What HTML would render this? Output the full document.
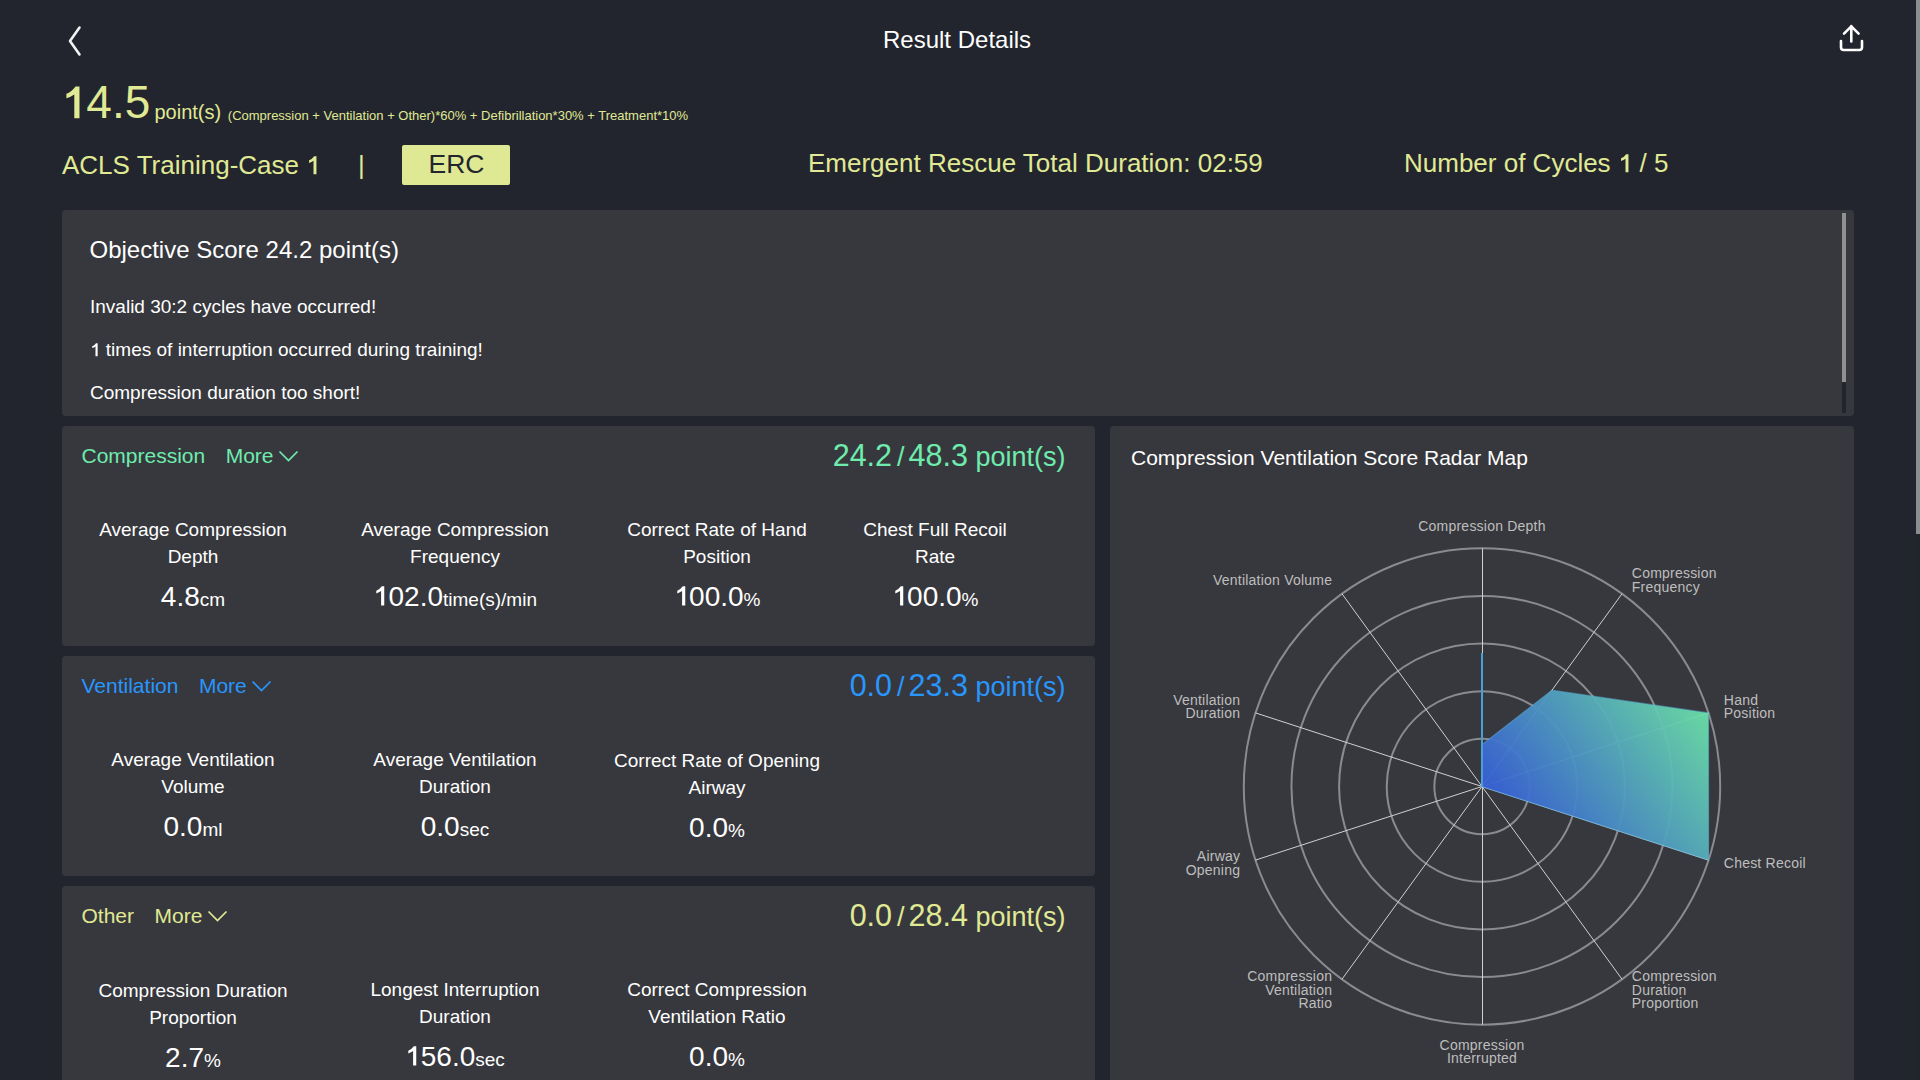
<!DOCTYPE html><html><head><meta charset="utf-8"><style>
html,body{margin:0;padding:0;}
body{width:1920px;height:1080px;overflow:hidden;background:#22252d;position:relative;font-family:"Liberation Sans", sans-serif;}
.t{position:absolute;white-space:nowrap;}
.box{position:absolute;background:#37383d;border-radius:4px;}
</style></head><body>
<div style="position:absolute;left:1916px;top:0;width:4px;height:534px;background:#8c8d8f"></div>
<div style="position:absolute;left:1916px;top:534px;width:4px;height:546px;background:#20252b"></div>
<svg style="position:absolute;left:0;top:0" width="1920" height="80">
<path d="M79.5 27.5 L70 41 L79.5 54.5" fill="none" stroke="#f2f2f2" stroke-width="2.6" stroke-linecap="round" stroke-linejoin="round"/>
<path d="M1851.3 26 V41.5 M1844 33.6 L1851.3 26.3 L1858.6 33.6" fill="none" stroke="#ffffff" stroke-width="2.6" stroke-linecap="round" stroke-linejoin="round"/>
<path d="M1841 41 V47.2 Q1841 50 1843.8 50 H1859.2 Q1862 50 1862 47.2 V41" fill="none" stroke="#ffffff" stroke-width="2.6" stroke-linecap="round" stroke-linejoin="round"/>
</svg>
<div class="t" style="left:883px;top:27.68px;font-size:24px;line-height:24px;color:#ffffff;">Result Details</div>
<div class="t" style="left:60.8px;top:78.86px;font-size:46px;line-height:46px;color:#e0e994;"><svg viewBox="0 0 556 700" style="width:0.556em;height:0.7em;overflow:visible"><path d="M315.2 8.7 Q228.3 128.3 117.4 167.4 V267.4 Q217.4 232.6 289.1 182.6 V700 H402.2 V8.7 Z" fill="currentColor"/></svg>4.5</div>
<div class="t" style="left:154.5px;top:101.57px;font-size:20px;line-height:20px;color:#e0e994;">point(s)</div>
<div class="t" style="left:227.8px;top:109.00px;font-size:13px;line-height:13px;color:#e0e994;">(Compression + Ventilation + Other)*60% + Defibrillation*30% + Treatment*10%</div>
<div class="t" style="left:62px;top:151.99px;font-size:26px;line-height:26px;color:#e0e994;">ACLS Training-Case <svg viewBox="0 0 556 700" style="width:0.556em;height:0.7em;overflow:visible"><path d="M315.2 8.7 Q228.3 128.3 117.4 167.4 V267.4 Q217.4 232.6 289.1 182.6 V700 H402.2 V8.7 Z" fill="currentColor"/></svg></div>
<div class="t" style="left:358px;top:151.99px;font-size:26px;line-height:26px;color:#e0e994;">|</div>
<div style="position:absolute;left:402px;top:145px;width:108px;height:40px;background:#dfe893;border-radius:2px"></div>
<div class="t" style="left:56.5px;width:800px;text-align:center;top:151.27px;font-size:26.5px;line-height:26.5px;color:#22252d;">ERC</div>
<div class="t" style="left:808px;top:149.99px;font-size:26px;line-height:26px;color:#e0e994;">Emergent Rescue Total Duration: 02:59</div>
<div class="t" style="left:1404px;top:149.99px;font-size:26px;line-height:26px;color:#e0e994;">Number of Cycles <svg viewBox="0 0 556 700" style="width:0.556em;height:0.7em;overflow:visible"><path d="M315.2 8.7 Q228.3 128.3 117.4 167.4 V267.4 Q217.4 232.6 289.1 182.6 V700 H402.2 V8.7 Z" fill="currentColor"/></svg> / 5</div>
<div class="box" style="left:62px;top:210px;width:1792px;height:206px"></div>
<div style="position:absolute;left:1842px;top:213px;width:4px;height:169px;background:#8f9091"></div>
<div style="position:absolute;left:1842px;top:382px;width:4px;height:31px;background:#20262c"></div>
<div class="t" style="left:89.5px;top:237.68px;font-size:24px;line-height:24px;color:#ffffff;">Objective Score 24.2 point(s)</div>
<div class="t" style="left:90px;top:297.12px;font-size:19px;line-height:19px;color:#ffffff;">Invalid 30:2 cycles have occurred!</div>
<div class="t" style="left:90px;top:340.12px;font-size:19px;line-height:19px;color:#ffffff;"><svg viewBox="0 0 556 700" style="width:0.556em;height:0.7em;overflow:visible"><path d="M315.2 8.7 Q228.3 128.3 117.4 167.4 V267.4 Q217.4 232.6 289.1 182.6 V700 H402.2 V8.7 Z" fill="currentColor"/></svg> times of interruption occurred during training!</div>
<div class="t" style="left:90px;top:383.12px;font-size:19px;line-height:19px;color:#ffffff;">Compression duration too short!</div>
<div class="box" style="left:62px;top:426px;width:1033px;height:220px"></div>
<div class="t" style="left:81.5px;top:444.72px;font-size:21px;line-height:21px;color:#6eecae;">Compression</div>
<div class="t" style="left:225.7px;top:444.72px;font-size:21px;line-height:21px;color:#6eecae;">More</div>
<svg style="position:absolute;left:277.7px;top:450px" width="22" height="14"><path d="M1.5 1.5 L10.5 10.5 L19.5 1.5" fill="none" stroke="#6eecae" stroke-width="1.7"/></svg>
<div class="t" style="left:265.5px;width:800px;text-align:right;top:440.18px;font-size:30.5px;line-height:30.5px;color:#6eecae;">24.2<span style="display:inline-block;font-size:27px;margin:0 4px 0 5px">/</span>48.3<span style="font-size:27px"> point(s)</span></div>
<div class="t" style="left:-207px;width:800px;text-align:center;top:519.92px;font-size:19px;line-height:19px;color:#ffffff;">Average Compression</div>
<div class="t" style="left:-207px;width:800px;text-align:center;top:546.67px;font-size:19px;line-height:19px;color:#ffffff;">Depth</div>
<div class="t" style="left:-207px;width:800px;text-align:center;top:582.70px;font-size:28px;line-height:28px;color:#ffffff;">4.8<span style="font-size:19px">cm</span></div>
<div class="t" style="left:55px;width:800px;text-align:center;top:519.92px;font-size:19px;line-height:19px;color:#ffffff;">Average Compression</div>
<div class="t" style="left:55px;width:800px;text-align:center;top:546.67px;font-size:19px;line-height:19px;color:#ffffff;">Frequency</div>
<div class="t" style="left:55px;width:800px;text-align:center;top:582.70px;font-size:28px;line-height:28px;color:#ffffff;"><svg viewBox="0 0 556 700" style="width:0.556em;height:0.7em;overflow:visible"><path d="M315.2 8.7 Q228.3 128.3 117.4 167.4 V267.4 Q217.4 232.6 289.1 182.6 V700 H402.2 V8.7 Z" fill="currentColor"/></svg>02.0<span style="font-size:19px">time(s)/min</span></div>
<div class="t" style="left:317px;width:800px;text-align:center;top:519.92px;font-size:19px;line-height:19px;color:#ffffff;">Correct Rate of Hand</div>
<div class="t" style="left:317px;width:800px;text-align:center;top:546.67px;font-size:19px;line-height:19px;color:#ffffff;">Position</div>
<div class="t" style="left:317px;width:800px;text-align:center;top:582.70px;font-size:28px;line-height:28px;color:#ffffff;"><svg viewBox="0 0 556 700" style="width:0.556em;height:0.7em;overflow:visible"><path d="M315.2 8.7 Q228.3 128.3 117.4 167.4 V267.4 Q217.4 232.6 289.1 182.6 V700 H402.2 V8.7 Z" fill="currentColor"/></svg>00.0<span style="font-size:19px">%</span></div>
<div class="t" style="left:535px;width:800px;text-align:center;top:519.92px;font-size:19px;line-height:19px;color:#ffffff;">Chest Full Recoil</div>
<div class="t" style="left:535px;width:800px;text-align:center;top:546.67px;font-size:19px;line-height:19px;color:#ffffff;">Rate</div>
<div class="t" style="left:535px;width:800px;text-align:center;top:582.70px;font-size:28px;line-height:28px;color:#ffffff;"><svg viewBox="0 0 556 700" style="width:0.556em;height:0.7em;overflow:visible"><path d="M315.2 8.7 Q228.3 128.3 117.4 167.4 V267.4 Q217.4 232.6 289.1 182.6 V700 H402.2 V8.7 Z" fill="currentColor"/></svg>00.0<span style="font-size:19px">%</span></div>
<div class="box" style="left:62px;top:656px;width:1033px;height:220px"></div>
<div class="t" style="left:81.5px;top:674.72px;font-size:21px;line-height:21px;color:#2896fc;">Ventilation</div>
<div class="t" style="left:198.9px;top:674.72px;font-size:21px;line-height:21px;color:#2896fc;">More</div>
<svg style="position:absolute;left:250.9px;top:680px" width="22" height="14"><path d="M1.5 1.5 L10.5 10.5 L19.5 1.5" fill="none" stroke="#2896fc" stroke-width="1.7"/></svg>
<div class="t" style="left:265.5px;width:800px;text-align:right;top:670.18px;font-size:30.5px;line-height:30.5px;color:#2896fc;">0.0<span style="display:inline-block;font-size:27px;margin:0 4px 0 5px">/</span>23.3<span style="font-size:27px"> point(s)</span></div>
<div class="t" style="left:-207px;width:800px;text-align:center;top:749.92px;font-size:19px;line-height:19px;color:#ffffff;">Average Ventilation</div>
<div class="t" style="left:-207px;width:800px;text-align:center;top:776.67px;font-size:19px;line-height:19px;color:#ffffff;">Volume</div>
<div class="t" style="left:-207px;width:800px;text-align:center;top:812.70px;font-size:28px;line-height:28px;color:#ffffff;">0.0<span style="font-size:19px">ml</span></div>
<div class="t" style="left:55px;width:800px;text-align:center;top:749.92px;font-size:19px;line-height:19px;color:#ffffff;">Average Ventilation</div>
<div class="t" style="left:55px;width:800px;text-align:center;top:776.67px;font-size:19px;line-height:19px;color:#ffffff;">Duration</div>
<div class="t" style="left:55px;width:800px;text-align:center;top:812.70px;font-size:28px;line-height:28px;color:#ffffff;">0.0<span style="font-size:19px">sec</span></div>
<div class="t" style="left:317px;width:800px;text-align:center;top:750.92px;font-size:19px;line-height:19px;color:#ffffff;">Correct Rate of Opening</div>
<div class="t" style="left:317px;width:800px;text-align:center;top:777.67px;font-size:19px;line-height:19px;color:#ffffff;">Airway</div>
<div class="t" style="left:317px;width:800px;text-align:center;top:813.70px;font-size:28px;line-height:28px;color:#ffffff;">0.0<span style="font-size:19px">%</span></div>
<div class="box" style="left:62px;top:886px;width:1033px;height:220px"></div>
<div class="t" style="left:81.5px;top:904.72px;font-size:21px;line-height:21px;color:#e0e994;">Other</div>
<div class="t" style="left:154.5px;top:904.72px;font-size:21px;line-height:21px;color:#e0e994;">More</div>
<svg style="position:absolute;left:206.5px;top:910px" width="22" height="14"><path d="M1.5 1.5 L10.5 10.5 L19.5 1.5" fill="none" stroke="#e0e994" stroke-width="1.7"/></svg>
<div class="t" style="left:265.5px;width:800px;text-align:right;top:900.18px;font-size:30.5px;line-height:30.5px;color:#e0e994;">0.0<span style="display:inline-block;font-size:27px;margin:0 4px 0 5px">/</span>28.4<span style="font-size:27px"> point(s)</span></div>
<div class="t" style="left:-207px;width:800px;text-align:center;top:980.92px;font-size:19px;line-height:19px;color:#ffffff;">Compression Duration</div>
<div class="t" style="left:-207px;width:800px;text-align:center;top:1007.67px;font-size:19px;line-height:19px;color:#ffffff;">Proportion</div>
<div class="t" style="left:-207px;width:800px;text-align:center;top:1043.70px;font-size:28px;line-height:28px;color:#ffffff;">2.7<span style="font-size:19px">%</span></div>
<div class="t" style="left:55px;width:800px;text-align:center;top:979.92px;font-size:19px;line-height:19px;color:#ffffff;">Longest Interruption</div>
<div class="t" style="left:55px;width:800px;text-align:center;top:1006.67px;font-size:19px;line-height:19px;color:#ffffff;">Duration</div>
<div class="t" style="left:55px;width:800px;text-align:center;top:1042.70px;font-size:28px;line-height:28px;color:#ffffff;"><svg viewBox="0 0 556 700" style="width:0.556em;height:0.7em;overflow:visible"><path d="M315.2 8.7 Q228.3 128.3 117.4 167.4 V267.4 Q217.4 232.6 289.1 182.6 V700 H402.2 V8.7 Z" fill="currentColor"/></svg>56.0<span style="font-size:19px">sec</span></div>
<div class="t" style="left:317px;width:800px;text-align:center;top:979.92px;font-size:19px;line-height:19px;color:#ffffff;">Correct Compression</div>
<div class="t" style="left:317px;width:800px;text-align:center;top:1006.67px;font-size:19px;line-height:19px;color:#ffffff;">Ventilation Ratio</div>
<div class="t" style="left:317px;width:800px;text-align:center;top:1042.70px;font-size:28px;line-height:28px;color:#ffffff;">0.0<span style="font-size:19px">%</span></div>
<div class="box" style="left:1110px;top:426px;width:744px;height:700px"></div>
<div class="t" style="left:1131px;top:447.22px;font-size:21px;line-height:21px;color:#ffffff;">Compression Ventilation Score Radar Map</div>
<svg style="position:absolute;left:0;top:0" width="1920" height="1080"><defs><linearGradient id="g" gradientUnits="userSpaceOnUse" x1="1481" y1="861" x2="1710" y2="690"><stop offset="0" stop-color="#305ade"/><stop offset="0.18" stop-color="#3862d6"/><stop offset="1" stop-color="#6ee8a4"/></linearGradient></defs><circle cx="1482" cy="786.5" r="47.64" fill="none" stroke="#8a8b8f" stroke-width="2"/><circle cx="1482" cy="786.5" r="95.28" fill="none" stroke="#8a8b8f" stroke-width="2"/><circle cx="1482" cy="786.5" r="142.92" fill="none" stroke="#8a8b8f" stroke-width="2"/><circle cx="1482" cy="786.5" r="190.56" fill="none" stroke="#8a8b8f" stroke-width="2"/><circle cx="1482" cy="786.5" r="238.20" fill="none" stroke="#8a8b8f" stroke-width="2"/><line x1="1482.5" y1="786.5" x2="1482.50" y2="548.30" stroke="#d0d0d0" stroke-width="1"/><line x1="1482" y1="786.5" x2="1622.01" y2="593.79" stroke="#d0d0d0" stroke-width="1"/><line x1="1482" y1="786.5" x2="1708.54" y2="712.89" stroke="#d0d0d0" stroke-width="1"/><line x1="1482" y1="786.5" x2="1708.54" y2="860.11" stroke="#d0d0d0" stroke-width="1"/><line x1="1482" y1="786.5" x2="1622.01" y2="979.21" stroke="#d0d0d0" stroke-width="1"/><line x1="1482.5" y1="786.5" x2="1482.50" y2="1024.70" stroke="#d0d0d0" stroke-width="1"/><line x1="1482" y1="786.5" x2="1341.99" y2="979.21" stroke="#d0d0d0" stroke-width="1"/><line x1="1482" y1="786.5" x2="1255.46" y2="860.11" stroke="#d0d0d0" stroke-width="1"/><line x1="1482" y1="786.5" x2="1255.46" y2="712.89" stroke="#d0d0d0" stroke-width="1"/><line x1="1482" y1="786.5" x2="1341.99" y2="593.79" stroke="#d0d0d0" stroke-width="1"/><polygon points="1481.50,786.50 1481.50,745.00 1552.01,690.15 1708.54,712.89 1708.54,860.11" fill="url(#g)" fill-opacity="0.95" stroke="#5ab8e0" stroke-width="1.2" stroke-opacity="0.45"/><line x1="1482" y1="786.5" x2="1482" y2="653" stroke="#4a9fd8" stroke-width="2"/></svg>
<div class="t" style="left:1082.0px;width:800px;text-align:center;top:518.85px;font-size:14px;line-height:14px;color:#bebebe;letter-spacing:0.22px;">Compression Depth</div>
<div class="t" style="left:1631.827225880454px;top:566.41px;font-size:14px;line-height:14px;color:#bebebe;letter-spacing:0.22px;">Compression</div>
<div class="t" style="left:1631.827225880454px;top:579.71px;font-size:14px;line-height:14px;color:#bebebe;letter-spacing:0.22px;">Frequency</div>
<div class="t" style="left:1723.807509925933px;top:693.01px;font-size:14px;line-height:14px;color:#bebebe;letter-spacing:0.22px;">Hand</div>
<div class="t" style="left:1723.807509925933px;top:706.31px;font-size:14px;line-height:14px;color:#bebebe;letter-spacing:0.22px;">Position</div>
<div class="t" style="left:1723.807509925933px;top:856.14px;font-size:14px;line-height:14px;color:#bebebe;letter-spacing:0.22px;">Chest Recoil</div>
<div class="t" style="left:1631.8272258804543px;top:969.44px;font-size:14px;line-height:14px;color:#bebebe;letter-spacing:0.22px;">Compression</div>
<div class="t" style="left:1631.8272258804543px;top:982.74px;font-size:14px;line-height:14px;color:#bebebe;letter-spacing:0.22px;">Duration</div>
<div class="t" style="left:1631.8272258804543px;top:996.04px;font-size:14px;line-height:14px;color:#bebebe;letter-spacing:0.22px;">Proportion</div>
<div class="t" style="left:1082.0px;width:800px;text-align:center;top:1037.75px;font-size:14px;line-height:14px;color:#bebebe;letter-spacing:0.22px;">Compression</div>
<div class="t" style="left:1082.0px;width:800px;text-align:center;top:1051.05px;font-size:14px;line-height:14px;color:#bebebe;letter-spacing:0.22px;">Interrupted</div>
<div class="t" style="left:532.1727741195459px;width:800px;text-align:right;top:969.44px;font-size:14px;line-height:14px;color:#bebebe;letter-spacing:0.22px;">Compression</div>
<div class="t" style="left:532.1727741195459px;width:800px;text-align:right;top:982.74px;font-size:14px;line-height:14px;color:#bebebe;letter-spacing:0.22px;">Ventilation</div>
<div class="t" style="left:532.1727741195459px;width:800px;text-align:right;top:996.04px;font-size:14px;line-height:14px;color:#bebebe;letter-spacing:0.22px;">Ratio</div>
<div class="t" style="left:440.1924900740671px;width:800px;text-align:right;top:849.49px;font-size:14px;line-height:14px;color:#bebebe;letter-spacing:0.22px;">Airway</div>
<div class="t" style="left:440.1924900740671px;width:800px;text-align:right;top:862.79px;font-size:14px;line-height:14px;color:#bebebe;letter-spacing:0.22px;">Opening</div>
<div class="t" style="left:440.1924900740671px;width:800px;text-align:right;top:693.01px;font-size:14px;line-height:14px;color:#bebebe;letter-spacing:0.22px;">Ventilation</div>
<div class="t" style="left:440.1924900740671px;width:800px;text-align:right;top:706.31px;font-size:14px;line-height:14px;color:#bebebe;letter-spacing:0.22px;">Duration</div>
<div class="t" style="left:532.1727741195457px;width:800px;text-align:right;top:573.06px;font-size:14px;line-height:14px;color:#bebebe;letter-spacing:0.22px;">Ventilation Volume</div>
</body></html>
